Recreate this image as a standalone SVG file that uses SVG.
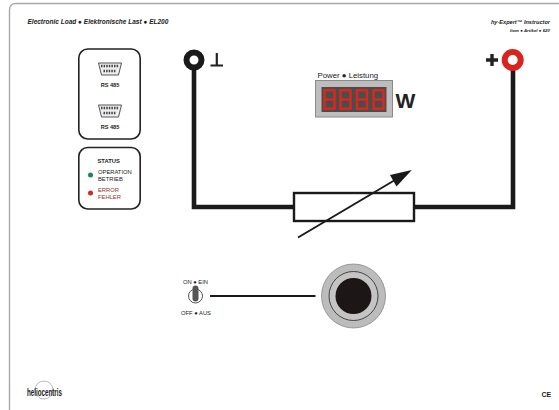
<svg xmlns="http://www.w3.org/2000/svg" width="559" height="410" viewBox="0 0 559 410">
<style>
text{font-family:"Liberation Sans",Arial,sans-serif;fill:#222}
.b{font-weight:bold}
.i{font-style:italic;font-weight:bold}
.panel{fill:#fff;stroke:#222;stroke-width:1.6}
.wire{fill:none;stroke:#1a1a1a;stroke-width:4.6}
.seg{fill:none;stroke:#d22a1e;stroke-width:2.600}
.dsub{fill:#eee;stroke:#444;stroke-width:.9}
</style>
<defs>
<g id="dig"><path class="seg" d="M1.500 1.200H11.500V19.800H1.500ZM1.500 10.500H11.500"/></g>
<g id="sub"><path class="dsub" d="M-11.500 -6H11.500L8.500 6H-8.500Z"/><path d="M-9 -3H9M-6.500 2H6.500" stroke="#444" stroke-width="2.400" stroke-dasharray="1.500 1.100" fill="none"/></g>
</defs>
<rect width="559" height="410" fill="#fff"/>
<path id="frame" d="M9.500 410V10Q9.500 3.500 16 3.500H559" fill="none" stroke="#a8a8a8" stroke-width="1.400"/>
<text id="title" class="i" x="27.500" y="24" font-size="6.500">Electronic Load ● Elektronische Last ● EL200</text>
<text class="i" x="550" y="23.500" font-size="5.600" text-anchor="end">hy-Expert™ Instructor</text>
<text class="i" x="550" y="32" font-size="4.400" text-anchor="end">Item ● Artikel ● 620</text>
<g id="connectors">
<path class="wire" d="M194 60V207H294"/>
<path class="wire" d="M414 207H513V60"/>
<path d="M210 296H315.500" fill="none" stroke="#1a1a1a" stroke-width="2"/>
</g>
<g id="rs485-panel">
<rect class="panel" x="78.800" y="49" width="61.400" height="90" rx="9"/>
<use href="#sub" x="110" y="69"/>
<text class="b" x="110" y="87" font-size="5.600" text-anchor="middle">RS 485</text>
<use href="#sub" x="110" y="111"/>
<text class="b" x="110" y="128.500" font-size="5.600" text-anchor="middle">RS 485</text>
</g>
<g id="status-panel">
<rect class="panel" x="78.800" y="147.500" width="61.400" height="61.500" rx="9"/>
<text class="b" x="97.500" y="163" font-size="5.800">STATUS</text>
<circle cx="90.500" cy="175" r="2.500" fill="#1c8a4c"/>
<text x="98" y="174" font-size="5.800">OPERATION</text>
<text x="98" y="181" font-size="5.800">BETRIEB</text>
<circle cx="90.500" cy="193" r="2.500" fill="#d4281c"/>
<text x="98" y="192" font-size="5.800" style="fill:#8a3a30">ERROR</text>
<text x="98" y="199" font-size="5.800" style="fill:#8a3a30">FEHLER</text>
</g>
<g id="ground-terminal">
<circle cx="194" cy="60" r="7.500" fill="#fff" stroke="#1a1a1a" stroke-width="6"/>
<path d="M210.500 65.500H223M216.800 53V65.500" fill="none" stroke="#222" stroke-width="2.200"/>
</g>
<g id="plus-terminal">
<circle cx="512.700" cy="60" r="8" fill="#fff" stroke="#d8241c" stroke-width="6"/>
<path d="M486 60H498M492 54V66" fill="none" stroke="#222" stroke-width="3.400"/>
</g>
<g id="power-meter">
<text x="317.500" y="78" font-size="7.800">Power ● Leistung</text>
<rect x="315.500" y="80.500" width="77" height="36.500" fill="#bdbdbd" stroke="#8a8a8a"/>
<rect x="321.500" y="87" width="65" height="25" fill="#4c4c4c"/>
<use href="#dig" x="323" y="89"/><use href="#dig" x="339" y="89"/><use href="#dig" x="355.500" y="89"/><use href="#dig" x="372" y="89"/>
<text class="b" x="395.500" y="108" font-size="21">W</text>
</g>
<g id="resistor">
<rect x="294" y="193" width="120" height="28" fill="#fff" stroke="#1a1a1a" stroke-width="2.400"/>
<path d="M298 237.500L395 180" fill="none" stroke="#1a1a1a" stroke-width="2"/>
<path d="M411.800 170L390 175L396.500 186.500Z" fill="#1a1a1a"/>
</g>
<g id="switch">
<text x="195.500" y="283.500" font-size="5.800" text-anchor="middle">ON ● EIN</text>
<circle cx="195.500" cy="296" r="7" fill="#fff" stroke="#555" stroke-width="1"/>
<rect x="192.500" y="285.500" width="6" height="16" rx="3" fill="#555"/>
<text x="196" y="314.500" font-size="5.800" text-anchor="middle">OFF ● AUS</text>
</g>
<g id="emergency-button">
<circle cx="353.500" cy="296" r="32" fill="#bcbcbc" stroke="#888" stroke-width=".8"/>
<circle cx="353.500" cy="296" r="24.500" fill="#c4c4c4" stroke="#444" stroke-width="1"/>
<circle cx="353.500" cy="296" r="18" fill="#1c1616"/>
</g>
<g id="logo">
<circle cx="44" cy="390" r="9" fill="none" stroke="#aaa" stroke-width=".8"/>
<text class="b" x="27" y="395.500" font-size="10.500" textLength="35" lengthAdjust="spacingAndGlyphs">heliocentris</text>
</g>
<text id="ce" class="b" x="541.500" y="397" font-size="7">CE</text>
</svg>
